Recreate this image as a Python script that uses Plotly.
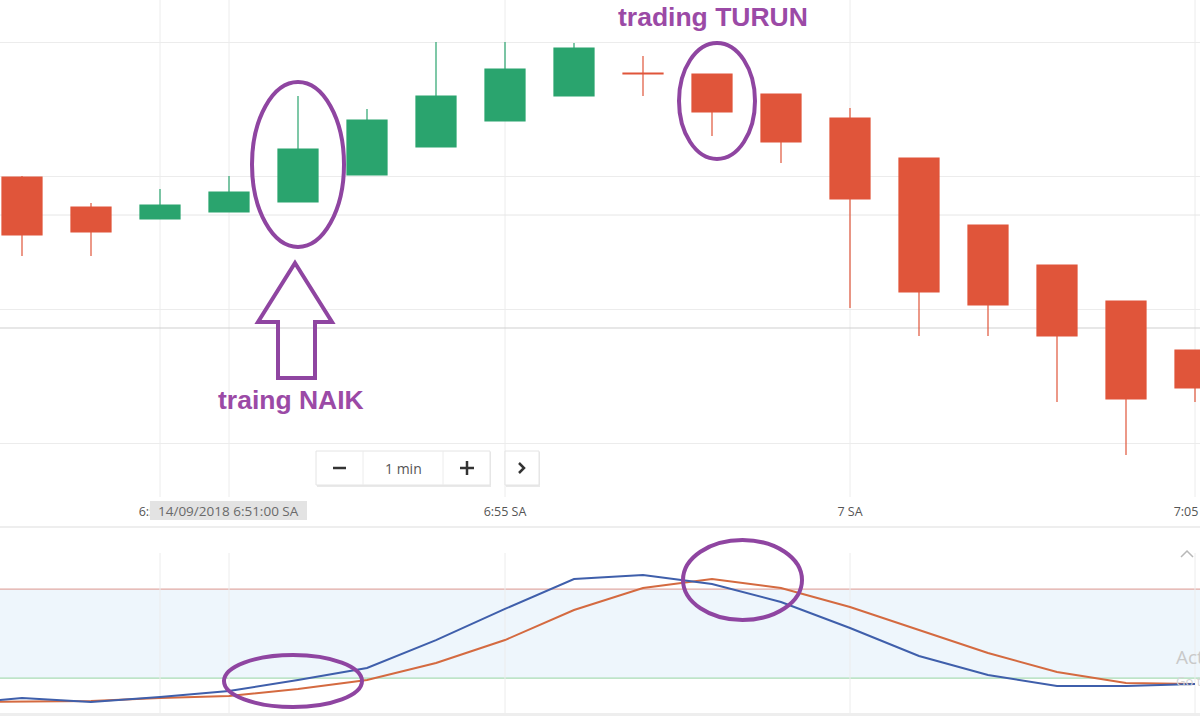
import plotly.graph_objects as go

# ---------------- data ----------------
DAY = "2018-09-14 "
candle_times = ["06:48", "06:49", "06:50", "06:51", "06:52", "06:53", "06:54", "06:55", "06:56",
                "06:57", "06:58", "06:59", "07:00", "07:01", "07:02", "07:03", "07:04", "07:05"]
open_px = [1.16523, 1.16493, 1.16481, 1.16488, 1.16498, 1.16525, 1.16553, 1.16579, 1.16604,
           1.16627, 1.16626, 1.16606, 1.16582, 1.16542, 1.16475, 1.16435, 1.16399, 1.16350]
high_px = [1.16524, 1.16497, 1.16511, 1.16524, 1.16604, 1.16591, 1.16658, 1.16658, 1.16657,
           1.16644, 1.16626, 1.16606, 1.16592, 1.16542, 1.16475, 1.16435, 1.16399, 1.16350]
low_px = [1.16444, 1.16444, 1.16481, 1.16488, 1.16498, 1.16525, 1.16553, 1.16579, 1.16604,
          1.16604, 1.16564, 1.16537, 1.16392, 1.16364, 1.16364, 1.16298, 1.16245, 1.16298]
close_px = [1.16465, 1.16468, 1.16495, 1.16508, 1.16551, 1.16580, 1.16604, 1.16631, 1.16652,
            1.16626, 1.16588, 1.16558, 1.16501, 1.16408, 1.16395, 1.16364, 1.16301, 1.16312]

stoch_times = ["06:47"] + candle_times
stoch_k = [2.5, 6.5, 3.8, 7.2, 11.3, 18.7, 26.8, 45.6, 66.6, 86.8,
           89.5, 83.4, 71.3, 53.7, 34.9, 22.0, 14.6, 14.6, 16.0]
stoch_d = [3.8, 4.0, 4.5, 6.5, 7.9, 12.6, 18.7, 30.1, 45.6, 65.9,
           80.7, 86.8, 80.7, 67.9, 52.4, 36.9, 24.1, 16.7, 16.0]
stoch_upper = 80
stoch_lower = 20

tick_times = ["06:50", "06:55", "07:00", "07:05"]
tick_labels = ["6:50 SA", "6:55 SA", "7 SA", "7:05 SA"]
crosshair_time = "06:51"
tooltip_text = "14/09/2018 6:51:00 SA"

# ---------------- helpers ----------------
W, H = 1200, 716


def px(x):
    return x / W


def py(y):
    return 1 - y / H


def t(s):
    return DAY + s + ":00"


GREEN = "#2aa46e"
RED = "#e0553a"
PURPLE = "#8f45a1"
PURPLE_TXT = "#9b4aa6"
GRID = "#ececec"

fig = go.Figure()

fig.add_trace(go.Candlestick(
    x=[t(s) for s in candle_times], open=open_px, high=high_px, low=low_px, close=close_px,
    increasing=dict(line=dict(color=GREEN, width=1.2), fillcolor=GREEN),
    decreasing=dict(line=dict(color=RED, width=1.2), fillcolor=RED),
    whiskerwidth=0, showlegend=False, hoverinfo="skip",
    xaxis="x", yaxis="y"))

fig.add_trace(go.Scatter(
    x=[t(s) for s in stoch_times], y=stoch_d, mode="lines",
    line=dict(color="#d46a40", width=2), showlegend=False, hoverinfo="skip",
    xaxis="x2", yaxis="y2"))
fig.add_trace(go.Scatter(
    x=[t(s) for s in stoch_times], y=stoch_k, mode="lines",
    line=dict(color="#3f5fab", width=2), showlegend=False, hoverinfo="skip",
    xaxis="x2", yaxis="y2"))

x_range = ["2018-09-14 06:47:40.87", "2018-09-14 07:05:04.35"]
main_bottom = 497
ind_top, ind_bottom = 553, 713

shapes = []
# indicator band + levels
shapes.append(dict(type="rect", xref="paper", yref="y2", x0=0, x1=1, y0=stoch_lower, y1=stoch_upper,
                   fillcolor="#eef6fc", line=dict(width=0), layer="below"))
shapes.append(dict(type="line", xref="paper", yref="y2", x0=0, x1=1, y0=stoch_upper, y1=stoch_upper,
                   line=dict(color="#e2aaa4", width=1.2), layer="below"))
shapes.append(dict(type="line", xref="paper", yref="y2", x0=0, x1=1, y0=stoch_lower, y1=stoch_lower,
                   line=dict(color="#a8dbb4", width=1.2), layer="below"))
# vertical grid lines in both panels
for s in tick_times + [crosshair_time]:
    shapes.append(dict(type="line", xref="x", yref="paper", x0=t(s), x1=t(s), y0=py(main_bottom), y1=1,
                       line=dict(color=GRID, width=1), layer="below"))
    shapes.append(dict(type="line", xref="x", yref="paper", x0=t(s), x1=t(s), y0=py(ind_bottom), y1=py(ind_top),
                       line=dict(color=GRID, width=1), layer="below"))
# extra horizontal lines in main panel
shapes.append(dict(type="line", xref="paper", yref="y", x0=0, x1=1, y0=1.16485, y1=1.16485,
                   line=dict(color="#e6e6e6", width=1), layer="below"))
shapes.append(dict(type="line", xref="paper", yref="y", x0=0, x1=1, y0=1.16372, y1=1.16372,
                   line=dict(color="#cfcfcf", width=1), layer="below"))
# separators
shapes.append(dict(type="line", xref="paper", yref="paper", x0=0, x1=1, y0=py(527), y1=py(527),
                   line=dict(color="#e8e8e8", width=1.5)))
shapes.append(dict(type="rect", xref="paper", yref="paper", x0=0, x1=1, y0=0, y1=py(713),
                   fillcolor="#eeeeee", line=dict(width=0)))


def ellipse(x0, y0, x1, y1):
    return dict(type="circle", xref="paper", yref="paper", x0=px(x0), x1=px(x1), y0=py(y1), y1=py(y0),
                line=dict(color=PURPLE, width=4), layer="above")


shapes += [ellipse(252, 82, 344, 247), ellipse(679, 43, 755, 159),
           ellipse(224, 655, 362, 707), ellipse(683, 540, 802, 620)]

# up arrow (outline)
arrow_pts = [(295, 263), (332, 322), (315, 322), (315, 378), (278, 378), (278, 322), (258, 322)]
path = "M " + " L ".join(f"{px(x):.5f},{py(y):.5f}" for x, y in arrow_pts) + " Z"
shapes.append(dict(type="path", xref="paper", yref="paper", path=path,
                   line=dict(color=PURPLE, width=4), fillcolor="rgba(0,0,0,0)", layer="above"))

# zoom buttons
shapes.append(dict(type="rect", xref="paper", yref="paper", x0=px(317), x1=px(491), y0=py(487), y1=py(452),
                   fillcolor="#e9e9e9", line=dict(width=0)))
shapes.append(dict(type="rect", xref="paper", yref="paper", x0=px(316), x1=px(490), y0=py(485), y1=py(451),
                   fillcolor="white", line=dict(color="#e4e4e4", width=1)))
for xs in (363, 443):
    shapes.append(dict(type="line", xref="paper", yref="paper", x0=px(xs), x1=px(xs), y0=py(485), y1=py(451),
                       line=dict(color="#ececec", width=1)))
shapes.append(dict(type="rect", xref="paper", yref="paper", x0=px(506), x1=px(540), y0=py(487), y1=py(452),
                   fillcolor="#e9e9e9", line=dict(width=0)))
shapes.append(dict(type="rect", xref="paper", yref="paper", x0=px(505), x1=px(539), y0=py(485), y1=py(451),
                   fillcolor="white", line=dict(color="#e4e4e4", width=1)))
# minus, plus, chevron
shapes.append(dict(type="line", xref="paper", yref="paper", x0=px(333), x1=px(346), y0=py(468), y1=py(468),
                   line=dict(color="#333333", width=2.5)))
shapes.append(dict(type="line", xref="paper", yref="paper", x0=px(460), x1=px(474), y0=py(468), y1=py(468),
                   line=dict(color="#333333", width=2.5)))
shapes.append(dict(type="line", xref="paper", yref="paper", x0=px(467), x1=px(467), y0=py(461), y1=py(475),
                   line=dict(color="#333333", width=2.5)))
chev = [(519, 463), (524, 468), (519, 473)]
shapes.append(dict(type="path", xref="paper", yref="paper",
                   path="M " + " L ".join(f"{px(x):.5f},{py(y):.5f}" for x, y in chev),
                   line=dict(color="#333333", width=2.5)))
# collapse chevron in indicator panel
up = [(1181, 557), (1187, 551), (1193, 557)]
shapes.append(dict(type="path", xref="paper", yref="paper",
                   path="M " + " L ".join(f"{px(x):.5f},{py(y):.5f}" for x, y in up),
                   line=dict(color="#b8b8b8", width=1.5)))
# crosshair time tooltip
shapes.append(dict(type="rect", xref="paper", yref="paper", x0=px(150), x1=px(307), y0=py(520), y1=py(501),
                   fillcolor="#e3e3e3", line=dict(width=0)))


def label(x, y, text, size, color, family="Open Sans", xanchor="center"):
    return dict(x=px(x), y=py(y), xref="paper", yref="paper", text=text, showarrow=False,
                xanchor=xanchor, yanchor="middle", font=dict(family=family, size=size, color=color))


annotations = [
    label(713, 17, "<b>trading TURUN</b>", 26.5, PURPLE_TXT, "Liberation Sans, Arial"),
    label(291, 400, "<b>traing NAIK</b>", 26.5, PURPLE_TXT, "Liberation Sans, Arial"),
    label(403, 468, "1 min", 14, "#555555"),
    label(228, 510.5, tooltip_text, 13.5, "#6a6a6a"),
    label(1174, 657, "Activate Windows", 19, "#c9c9c9", xanchor="left"),
    label(1174, 681, "Go to Settings to activate Windows.", 13, "#d6d6d6", xanchor="left"),
]

fig.update_layout(
    width=W, height=H, margin=dict(l=0, r=0, t=0, b=0, autoexpand=False),
    paper_bgcolor="white", plot_bgcolor="white",
    boxgap=0.42, boxgroupgap=0,
    xaxis=dict(type="date", range=x_range, domain=[0, 1], anchor="y", automargin=False,
               tickvals=[t(s) for s in tick_times], ticktext=tick_labels, ticklabeloverflow="allow",
               tickfont=dict(family="Open Sans", size=12.5, color="#555555"),
               showgrid=False, zeroline=False, showline=False, ticks="outside", ticklen=3,
               tickcolor="rgba(0,0,0,0)", rangeslider=dict(visible=False), fixedrange=True),
    yaxis=dict(domain=[py(main_bottom), 1], range=[1.16203, 1.16700], automargin=False,
               tick0=1.16257, dtick=0.001335, showgrid=True, gridcolor=GRID, gridwidth=1,
               showticklabels=False, zeroline=False, showline=False, fixedrange=True),
    xaxis2=dict(type="date", range=x_range, domain=[0, 1], anchor="y2", automargin=False,
                showticklabels=False, showgrid=False, zeroline=False, showline=False, fixedrange=True),
    yaxis2=dict(domain=[py(ind_bottom), py(ind_top)], range=[-3.57, 104.3], automargin=False,
                showticklabels=False, showgrid=False, zeroline=False, showline=False, fixedrange=True),
    shapes=shapes, annotations=annotations,
)

fig.write_html("out.html", config=dict(displayModeBar=False),
               post_script="document.body.style.margin='0';document.body.style.overflow='hidden';")
